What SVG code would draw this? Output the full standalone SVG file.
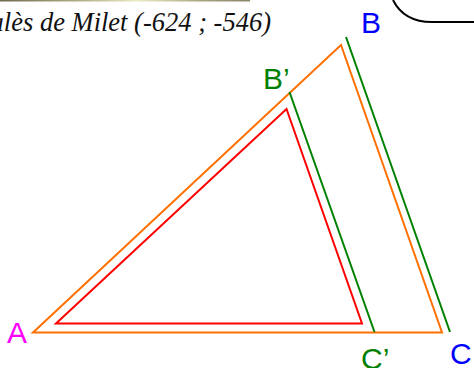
<svg xmlns="http://www.w3.org/2000/svg" width="474" height="368" viewBox="0 0 474 368">
<defs>
<linearGradient id="bar" x1="0" y1="0" x2="1" y2="0">
<stop offset="0" stop-color="#6e6a4c"/>
<stop offset="0.35" stop-color="#b8b690"/>
<stop offset="0.55" stop-color="#ecebc8"/>
<stop offset="0.8" stop-color="#a9a684"/>
<stop offset="1" stop-color="#8a8668"/>
</linearGradient>
</defs>
<style>
.tri{fill:none;stroke-width:2;stroke-linejoin:miter}
.lbl{font-family:"Liberation Sans",Arial,sans-serif;font-size:30px}
.title{font-family:"Liberation Serif","Times New Roman",serif;font-style:italic;font-size:26.5px;fill:#111}
</style>
<rect x="0" y="0" width="250" height="1.5" fill="url(#bar)"/>
<path d="M393,0 C400,14 412,22 432,22 L474,22" fill="none" stroke="#000" stroke-width="2"/>
<text class="title" x="271" y="31" text-anchor="end">Thalès de Milet (-624 ; -546)</text>
<g id="connectors">
<polygon id="orange" class="tri" stroke="#ff7000" points="33,332.5 341,45 442,332.5"/>
<polygon id="red" class="tri" stroke="#ff0000" points="56,323.5 286.5,109 362,323.5"/>
<line id="BpCp" x1="289.5" y1="92" x2="374.5" y2="332" stroke="#008000" stroke-width="2"/>
<line id="BC" x1="346" y1="37" x2="450" y2="332" stroke="#008000" stroke-width="2"/>
</g>
<g id="A"><text class="lbl" x="7" y="343" fill="#ff00ff">A</text></g>
<g id="B"><text class="lbl" x="361" y="33" fill="#0000ff">B</text></g>
<g id="Bp"><text class="lbl" x="263" y="89" fill="#008000">B’</text></g>
<g id="Cp"><text class="lbl" x="361" y="369" fill="#008000">C’</text></g>
<g id="C"><text class="lbl" x="450" y="364" fill="#0000ff">C</text></g>
</svg>
